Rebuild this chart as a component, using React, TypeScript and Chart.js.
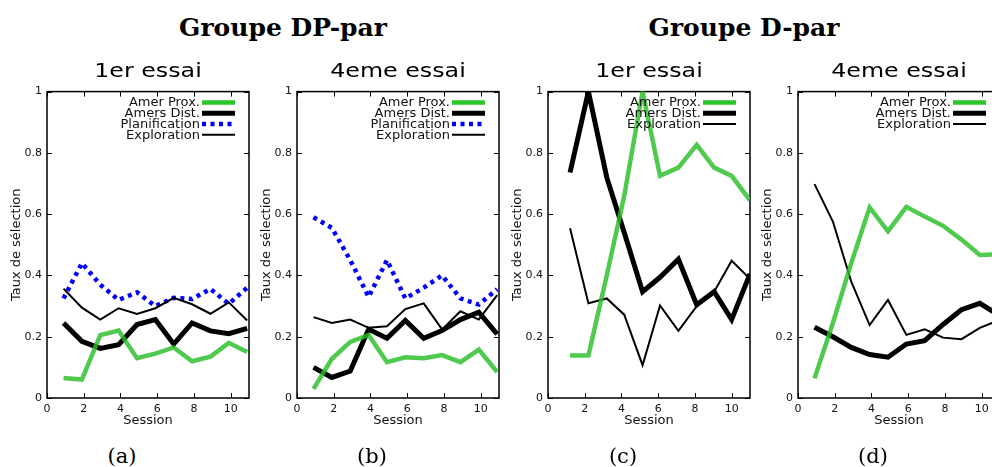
import React, { useEffect, useRef } from "react";
import { Chart, registerables } from "chart.js";

Chart.register(...registerables);
Chart.defaults.font.family = "'DejaVu Sans', sans-serif";

// ---------- data ----------
const sessionsAB = [0.9, 1.9, 2.9, 3.9, 4.9, 5.9, 6.9, 7.9, 8.9, 9.9, 10.9];
const sessionsC = [1.2, 2.2, 3.2, 4.15, 5.15, 6.1, 7.1, 8.1, 9.05, 10.0, 11.0];
const sessionsD = [0.9, 1.9, 2.9, 3.9, 4.9, 5.9, 6.9, 7.9, 8.9, 9.9, 10.9];

const aProx = [0.065, 0.06, 0.205, 0.22, 0.13, 0.145, 0.165, 0.12, 0.135, 0.18, 0.15];
const aDist = [0.245, 0.185, 0.162, 0.174, 0.24, 0.256, 0.176, 0.245, 0.219, 0.21, 0.227];
const aPlan = [0.325, 0.44, 0.37, 0.32, 0.345, 0.3, 0.327, 0.323, 0.356, 0.307, 0.36];
const aExpl = [0.357, 0.295, 0.256, 0.293, 0.274, 0.293, 0.327, 0.306, 0.275, 0.312, 0.253];

const bProx = [0.03, 0.128, 0.183, 0.206, 0.117, 0.133, 0.13, 0.14, 0.117, 0.158, 0.085];
const bDist = [0.1, 0.067, 0.088, 0.224, 0.195, 0.253, 0.195, 0.22, 0.256, 0.28, 0.208];
const bPlan = [0.59, 0.555, 0.45, 0.33, 0.45, 0.325, 0.36, 0.4, 0.325, 0.305, 0.355];
const bExpl = [0.264, 0.245, 0.256, 0.229, 0.234, 0.29, 0.309, 0.224, 0.283, 0.256, 0.336];

const cProx = [0.139, 0.139, 0.4, 0.66, 1.0, 0.725, 0.752, 0.826, 0.752, 0.725, 0.645];
const cDist = [0.736, 1.0, 0.72, 0.54, 0.347, 0.394, 0.453, 0.304, 0.347, 0.256, 0.405];
const cExpl = [0.554, 0.309, 0.325, 0.272, 0.107, 0.302, 0.219, 0.3, 0.347, 0.448, 0.389];

const dProx = [0.064, 0.245, 0.44, 0.622, 0.544, 0.624, 0.592, 0.562, 0.517, 0.467, 0.469];
const dDist = [0.231, 0.2, 0.165, 0.142, 0.133, 0.176, 0.187, 0.24, 0.288, 0.309, 0.272];
const dExpl = [0.698, 0.576, 0.38, 0.238, 0.32, 0.206, 0.224, 0.197, 0.192, 0.229, 0.253];

const seriesLabels: Record<string, string> = {
  prox: "Amer Prox.",
  dist: "Amers Dist.",
  plan: "Planification",
  expl: "Exploration",
};

const groupTitles = ["Groupe DP-par", "Groupe D-par"];
const panelTitles = ["1er essai", "4eme essai", "1er essai", "4eme essai"];
const captions = ["(a)", "(b)", "(c)", "(d)"];
const xAxisTitle = "Session";
const yAxisTitle = "Taux de sélection";

const panels: { x: number[]; series: [string, number[]][] }[] = [
  { x: sessionsAB, series: [["prox", aProx], ["dist", aDist], ["plan", aPlan], ["expl", aExpl]] },
  { x: sessionsAB, series: [["prox", bProx], ["dist", bDist], ["plan", bPlan], ["expl", bExpl]] },
  { x: sessionsC, series: [["prox", cProx], ["dist", cDist], ["expl", cExpl]] },
  { x: sessionsD, series: [["prox", dProx], ["dist", dDist], ["expl", dExpl]] },
];

// ---------- styles / layout ----------
const styles: Record<string, any> = {
  prox: { borderColor: "rgba(40,190,40,0.82)", legendColor: "rgb(40,200,40)", borderWidth: 4.5, order: 0 },
  dist: { borderColor: "#000", borderWidth: 5, order: 3 },
  plan: { borderColor: "#0000ff", borderWidth: 4.5, borderDash: [4, 4.5], order: 2 },
  expl: { borderColor: "#000", borderWidth: 2, order: 1 },
};

const PLOT_LEFT = [47, 297, 548, 798];
const PLOT_W = 202;
const Y_AXIS_W = 47;
const CANVAS_TOP = 80;
const CANVAS_W = Y_AXIS_W + PLOT_W + 6;
const CANVAS_H = 348;

const framePlugin = {
  id: "gpFrame",
  beforeDatasetsDraw(chart: any) {
    const { ctx, chartArea: a, scales } = chart;
    ctx.save();
    ctx.strokeStyle = "#000";
    ctx.lineWidth = 1.5;
    ctx.strokeRect(a.left, a.top, a.right - a.left, a.bottom - a.top);
    ctx.lineWidth = 1;
    const L = 5;
    ctx.beginPath();
    for (const t of scales.x.ticks) {
      const px = Math.round(scales.x.getPixelForValue(t.value)) + 0.5;
      ctx.moveTo(px, a.bottom);
      ctx.lineTo(px, a.bottom - L);
      ctx.moveTo(px, a.top);
      ctx.lineTo(px, a.top + L);
    }
    for (const t of scales.y.ticks) {
      const py = Math.round(scales.y.getPixelForValue(t.value)) + 0.5;
      ctx.moveTo(a.left, py);
      ctx.lineTo(a.left + L, py);
      ctx.moveTo(a.right, py);
      ctx.lineTo(a.right - L, py);
    }
    ctx.stroke();
    ctx.restore();
  },
};

const legendPlugin = {
  id: "gpLegend",
  afterDatasetsDraw(chart: any) {
    const { ctx, chartArea: a } = chart;
    ctx.save();
    ctx.font = "13px 'DejaVu Sans'";
    ctx.textAlign = "right";
    ctx.textBaseline = "middle";
    chart.data.datasets.forEach((ds: any, i: number) => {
      const y = a.top + 11 + i * 10.7;
      ctx.fillStyle = "#111";
      ctx.fillText(ds.label, a.right - 49, y + 0.5);
      ctx.beginPath();
      ctx.strokeStyle = ds.legendColor ?? ds.borderColor;
      ctx.lineWidth = ds.borderWidth;
      ctx.setLineDash(ds.borderDash ?? []);
      ctx.moveTo(a.right - 47, y);
      ctx.lineTo(a.right - 14, y);
      ctx.stroke();
      ctx.setLineDash([]);
    });
    ctx.restore();
  },
};

function Panel({ idx }: { idx: number }) {
  const ref = useRef<HTMLCanvasElement>(null);
  useEffect(() => {
    const p = panels[idx];
    const datasets = p.series.map(([key, vals]) => ({
      label: seriesLabels[key],
      data: p.x.map((xv, i) => ({ x: xv, y: vals[i] })),
      pointRadius: 0,
      tension: 0,
      fill: false,
      borderCapStyle: "butt",
      borderJoinStyle: "miter",
      ...styles[key],
    }));
    const chart = new Chart(ref.current as HTMLCanvasElement, {
      type: "line",
      data: { datasets } as any,
      options: {
        animation: false,
        responsive: false,
        maintainAspectRatio: false,
        events: [],
        layout: { padding: { top: 6, right: 6, left: 0, bottom: 0 } },
        plugins: { legend: { display: false }, tooltip: { enabled: false } },
        scales: {
          x: {
            type: "linear",
            min: 0,
            max: 11,
            afterFit: (s: any) => {
              s.height = CANVAS_H - 6 - 312;
            },
            ticks: { stepSize: 2, includeBounds: false, padding: 5, maxRotation: 0, font: { size: 11 }, color: "#111" },
            grid: { display: false, drawTicks: false },
            border: { display: false },
            title: { display: true, text: xAxisTitle, font: { size: 13 }, color: "#111", padding: { top: 0, bottom: 0 } },
          },
          y: {
            type: "linear",
            min: 0,
            max: 1,
            afterFit: (s: any) => {
              s.width = Y_AXIS_W;
            },
            ticks: {
              stepSize: 0.2,
              padding: 5,
              font: { size: 11 },
              color: "#111",
              callback: (v: any) => String(Number(Number(v).toFixed(2))),
            },
            grid: { display: false, drawTicks: false },
            border: { display: false },
            title: { display: true, text: yAxisTitle, font: { size: 13 }, color: "#111", padding: { top: 9, bottom: 0 } },
          },
        },
      } as any,
      plugins: [framePlugin, legendPlugin],
    });
    return () => chart.destroy();
  }, [idx]);
  return (
    <canvas
      ref={ref}
      width={CANVAS_W}
      height={CANVAS_H}
      style={{ position: "absolute", left: PLOT_LEFT[idx] - Y_AXIS_W, top: CANVAS_TOP, width: CANVAS_W, height: CANVAS_H }}
    />
  );
}

const groupCenters = [283, 744];

export default function App() {
  return (
    <div style={{ position: "fixed", left: 0, top: 0, width: 992, height: 467, overflow: "hidden", background: "#fff" }}>
      {groupTitles.map((t, i) => (
        <div
          key={"g" + i}
          style={{
            position: "absolute",
            left: groupCenters[i],
            top: 13,
            transform: "translateX(-50%)",
            whiteSpace: "nowrap",
            font: "bold 25px/30px 'DejaVu Serif', serif",
            color: "#000",
          }}
        >
          {t}
        </div>
      ))}
      {panels.map((_, i) => (
        <Panel key={"p" + i} idx={i} />
      ))}
      {panelTitles.map((t, i) => (
        <div
          key={"t" + i}
          style={{
            position: "absolute",
            left: PLOT_LEFT[i] + PLOT_W / 2,
            top: 58,
            transform: "translateX(-50%) scaleX(1.25)",
            whiteSpace: "nowrap",
            font: "19px/24px 'DejaVu Sans', sans-serif",
            color: "#000",
          }}
        >
          {t}
        </div>
      ))}
      {captions.map((t, i) => (
        <div
          key={"c" + i}
          style={{
            position: "absolute",
            left: PLOT_LEFT[i] + PLOT_W / 2 - 26,
            top: 443,
            transform: "translateX(-50%)",
            whiteSpace: "nowrap",
            font: "21px/26px 'DejaVu Serif', serif",
            color: "#000",
          }}
        >
          {t}
        </div>
      ))}
    </div>
  );
}
